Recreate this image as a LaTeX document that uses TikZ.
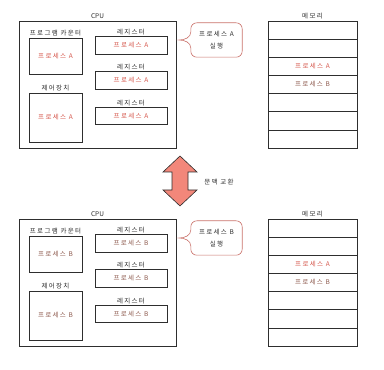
\documentclass[tikz,border=0pt]{standalone}
\usepackage{fontspec}
\newfontfamily\hand[LetterSpace=20]{Noto Sans CJK KR}
\newfontfamily\handtight{Noto Sans CJK KR}
\usetikzlibrary{positioning}
\definecolor{ink}{HTML}{2E2E2E}
\definecolor{procA}{HTML}{D5574C}
\definecolor{procB}{HTML}{8E5B4F}
\definecolor{bubble}{HTML}{C9716A}
\definecolor{swapfill}{HTML}{F2877A}

\begin{document}
\begin{tikzpicture}[
  x=1pt, y=1pt,
  node distance=1.5pt,
  every node/.style={font=\hand\fontsize{6.5}{8}\selectfont, text=ink, inner sep=0pt},
  outer/.style={draw=ink, line width=0.7pt, minimum width=157pt, minimum height=127pt},
  slot/.style={draw=ink, line width=0.6pt, minimum width=53pt},
  reg/.style={draw=ink, line width=0.6pt, minimum width=72pt, minimum height=17.5pt},
  memcell/.style={draw=ink, line width=0.6pt, minimum width=89pt, minimum height=18.14pt, outer sep=0pt},
  bubbleline/.style={draw=bubble, line width=0.6pt},
  swaparrow/.style={draw=ink, fill=swapfill, line width=0.6pt, line join=miter}
]
\useasboundingbox (0,0) rectangle (384,370);

% one panel per running process
\foreach \p/\dy/\run/\col in {a/0/A/procA, b/198/B/procB}{
\begin{scope}[yshift=-\dy pt]
  % CPU
  \node[outer] (\p cpu) at (97.5,285.5) {};
  \node[above=2pt of \p cpu, font=\handtight\fontsize{6.5}{8}\selectfont] (\p cpulbl) {CPU};
  \node[slot, minimum height=36pt, text=\col] (\p pc) at (55.5,314) {프로세스 \run};
  \node[above=of \p pc] (\p pclbl) {프로그램 카운터};
  \node[slot, minimum height=49pt, text=\col] (\p cu) at (55.5,252.5) {프로세스 \run};
  \node[above=of \p cu] (\p culbl) {제어장치};
  \node[reg, text=\col] (\p reg1) at (131,324.5) {프로세스 \run};
  \node[reg, text=\col] (\p reg2) at (131,289.5) {프로세스 \run};
  \node[reg, text=\col] (\p reg3) at (131,254) {프로세스 \run};
  \foreach \r in {1,2,3}
    \node[above=1pt of \p reg\r] (\p reglbl\r) {레지스터};

  % speech bubble
  \node[align=center, minimum width=51pt, minimum height=34pt] (\p run) at (216.5,330) {프로세스 \run\\[3.5pt]실행};
  \coordinate (\p tip) at (179,330);
  \draw[bubbleline, rounded corners=6pt] ([yshift=8pt]\p run.west) -- (\p run.north west) -- (\p run.north east)
    -- (\p run.south east) -- (\p run.south west) -- ([yshift=-8pt]\p run.west);
  \draw[bubbleline] ([yshift=8pt]\p run.west) to[out=-90, in=0] (\p tip) to[out=0, in=90] ([yshift=-8pt]\p run.west);

  % memory
  \node[memcell] (\p mem1) at (312.5,339.9) {};
  \foreach \i [count=\j from 1] in {2,...,7}
    \node[memcell, below=0pt of \p mem\j] (\p mem\i) {};
  \node[above=2pt of \p mem1] (\p memlbl) {메모리};
  \node[text=procA] (\p memA) at (\p mem3) {프로세스 A};
  \node[text=procB] (\p memB) at (\p mem4) {프로세스 B};
\end{scope}
}

% context switch
\draw[swaparrow] (180,214) -- (197,198) -- (188,198) -- (188,180) -- (197,180) -- (180,164)
  -- (163,180) -- (172,180) -- (172,198) -- (163,198) -- cycle;
\node (swaplbl) at (219,188) {문맥 교환};
\end{tikzpicture}
\end{document}
